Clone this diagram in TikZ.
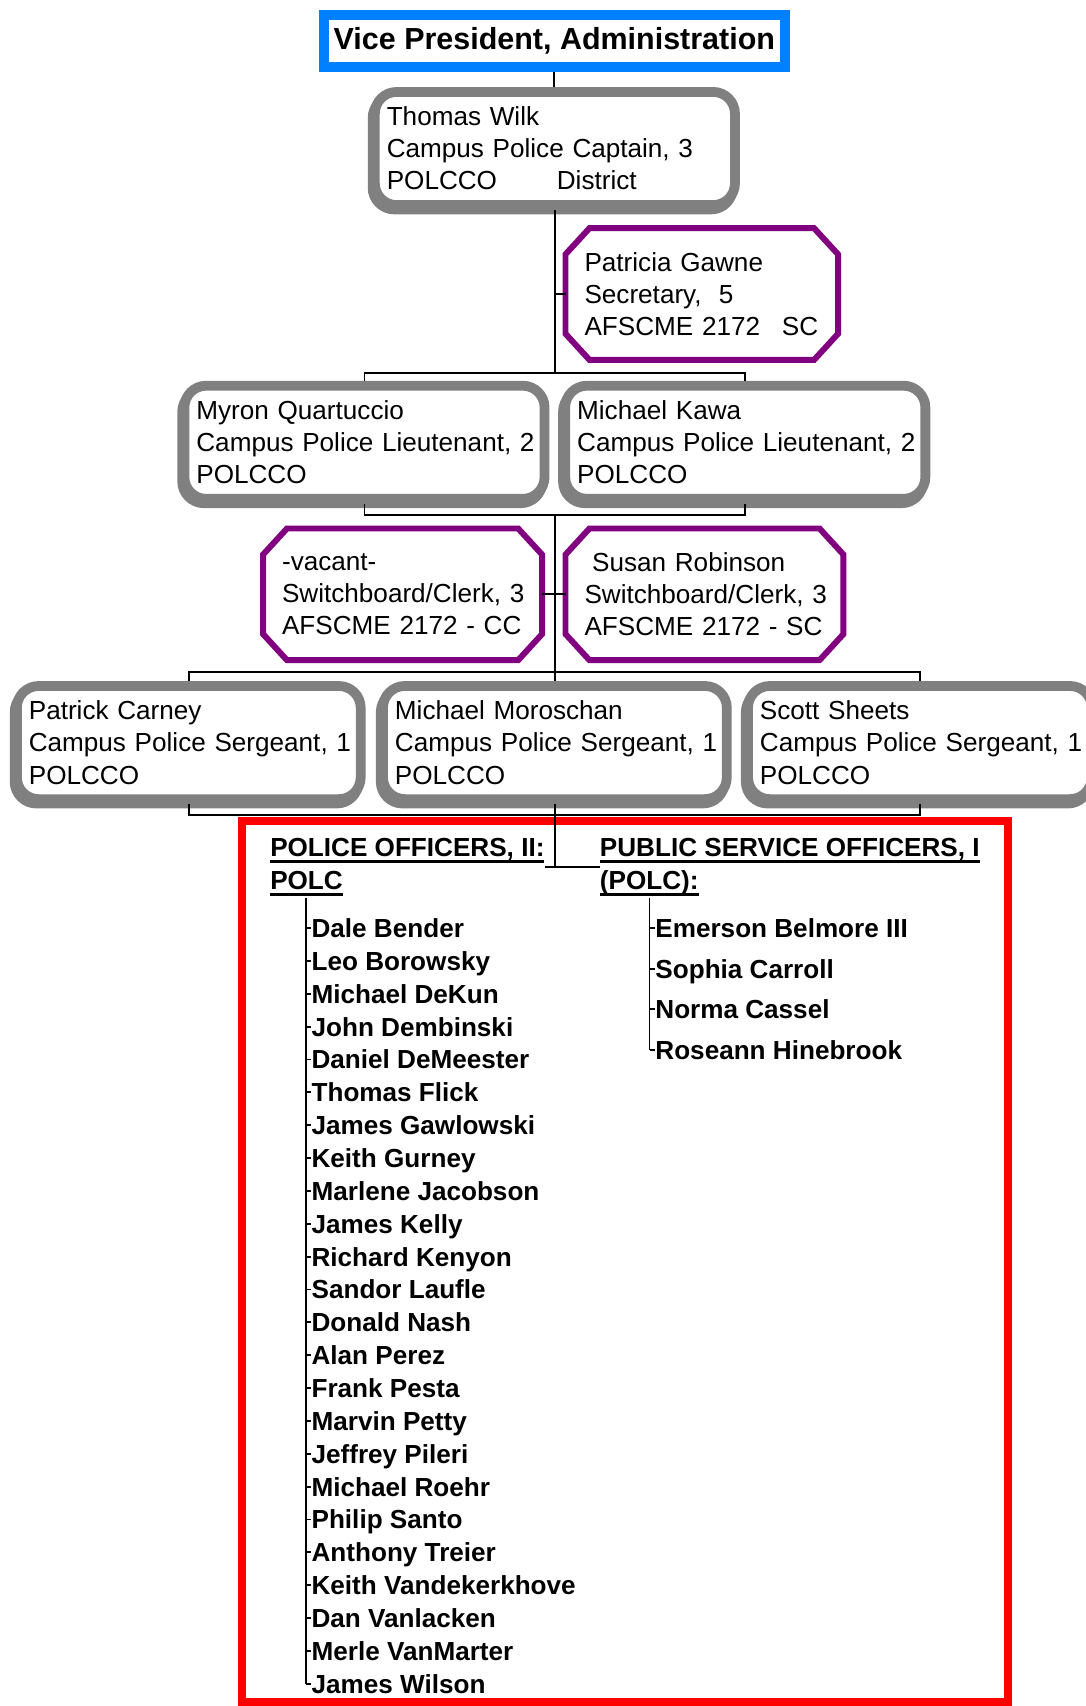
\documentclass[tikz,border=0pt]{standalone}
\usepackage{fontspec}
\setmainfont{Liberation Sans}
\usepackage{xcolor}
\usetikzlibrary{shadows}

\definecolor{vpblue}{RGB}{0,128,255}
\definecolor{boxgray}{RGB}{128,128,128}
\definecolor{clerkpurple}{RGB}{128,0,128}
\definecolor{listred}{RGB}{255,0,0}

\newcommand{\underhead}[1]{\setbox0\hbox{#1}\rlap{\rule[-3pt]{\wd0}{1.2pt}}\box0}

\begin{document}
\begin{tikzpicture}[
  x=0.5pt, y=-0.5pt,
  font=\fontsize{12}{14.75}\selectfont,
  vpbox/.style={draw=vpblue, line width=4.5pt, fill=white, anchor=north west, minimum width=212pt, minimum height=24pt, inner sep=0pt, font=\fontsize{14}{16}\selectfont\bfseries},
  capbox/.style={draw=boxgray, line width=4.5pt, rounded corners=10pt, fill=white, anchor=north west, align=left, inner xsep=5.5pt, text width=#1, minimum height=52pt,
    drop shadow={shadow xshift=-1pt, shadow yshift=-2pt, draw=boxgray, fill=boxgray, line width=4.5pt, opacity=1}},
  clerkbox/.style={anchor=north west, outer sep=0pt, align=left, inner xsep=8.75pt, text width=#1, minimum height=60.5pt},
  clerkline/.style={draw=clerkpurple, line width=2.75pt, line join=miter},
  listbox/.style={draw=listred, line width=3.7pt, anchor=north west, minimum width=351.8pt, minimum height=404.8pt, inner sep=0pt},
  head/.style={font=\fontsize{12}{15}\selectfont\bfseries, align=left, inner sep=0pt, anchor=north west},
  staff/.style={font=\fontsize{12}{14}\selectfont\bfseries, inner sep=0pt, text height=8.6pt, text depth=0pt, anchor=west},
  link/.style={draw=black, line width=0.85pt}
]
\useasboundingbox (0,0) rectangle (998,1568);
\clip (0,0) rectangle (998,1568);

% boxes of the chart
\node[vpbox] (vp) at (293,9) {Vice President, Administration};
\node[capbox=154.5pt] (wilk) at (340,80) {Thomas Wilk\\\mbox{Campus Police Captain, 3}\\POLCCO\hspace{27.5pt}District};
\node[clerkbox=107.75pt] (gawne) at (519.75,209.75) {Patricia Gawne\\Secretary,\hspace{8pt}5\\\mbox{AFSCME 2172\hspace{10pt}SC}};
\node[capbox=154.5pt] (quartuccio) at (165,350) {Myron Quartuccio\\\mbox{Campus Police Lieutenant, 2}\\POLCCO};
\node[capbox=154.5pt] (kawa) at (515,350) {Michael Kawa\\\mbox{Campus Police Lieutenant, 2}\\POLCCO};
\node[clerkbox=110.75pt] (vacant) at (241.75,485.75) {-vacant-\\\mbox{Switchboard/Clerk, 3}\\\mbox{AFSCME 2172 - CC}};
\node[clerkbox=110.25pt] (robinson) at (519.75,485.75) {\hspace*{3.5pt}Susan Robinson\\\mbox{Switchboard/Clerk, 3}\\\mbox{AFSCME 2172 - SC}};
\node[capbox=147pt] (carney) at (11,626) {Patrick Carney\\\mbox{Campus Police Sergeant, 1}\\POLCCO};
\node[capbox=147pt] (moroschan) at (347.5,626) {Michael Moroschan\\\mbox{Campus Police Sergeant, 1}\\POLCCO};
\node[capbox=147pt] (sheets) at (683,626) {Scott Sheets\\\mbox{Campus Police Sergeant, 1}\\POLCCO};

% cut corners of the clerk boxes
\foreach \b in {gawne,vacant,robinson}
  \draw[clerkline] ([xshift=11pt]\b.north west) -- ([xshift=-11pt]\b.north east)
    -- ([yshift=-12pt]\b.north east) -- ([yshift=12pt]\b.south east)
    -- ([xshift=-11pt]\b.south east) -- ([xshift=11pt]\b.south west)
    -- ([yshift=12pt]\b.south west) -- ([yshift=-12pt]\b.north west) -- cycle;

% officers
\node[listbox] (officers) at (219,751) {};
\node[head] (pohead) at (248,770) {\underhead{POLICE OFFICERS, II:}\\\underhead{POLC}};
\node[head] (psohead) at (551,770) {\underhead{PUBLIC SERVICE OFFICERS, I}\\\underhead{(POLC):}};

\foreach \nm [count=\i] in {Dale Bender, Leo Borowsky, Michael DeKun, John Dembinski,
    Daniel DeMeester, Thomas Flick, James Gawlowski, Keith Gurney, Marlene Jacobson,
    James Kelly, Richard Kenyon, Sandor Laufle, Donald Nash, Alan Perez, Frank Pesta,
    Marvin Petty, Jeffrey Pileri, Michael Roehr, Philip Santo, Anthony Treier,
    Keith Vandekerkhove, Dan Vanlacken, Merle VanMarter, James Wilson}
  \node[staff] (po\i) at (286,{853+(\i-1)*30.2}) {\nm};
\foreach \nm [count=\i] in {Emerson Belmore III, Sophia Carroll, Norma Cassel, Roseann Hinebrook}
  \node[staff] (pso\i) at (602,{853+(\i-1)*37.33}) {\nm};

% connectors
\coordinate (lieubar) at (510,343);
\coordinate (lieufoot) at (510,473);
\coordinate (sgtbar) at (510,618);
\coordinate (sgtfoot) at (510,749);
\coordinate (potrunk) at (281,825);
\coordinate (psotrunk) at (597,825);
\draw[link] (vp.south) -- (vp.south |- wilk.north);
\draw[link] (wilk.south) -- (lieubar);
\draw[link] (wilk.south |- gawne.west) -- (gawne.west);
\draw[link] (quartuccio.north) |- (lieubar) -| (kawa.north);
\draw[link] (quartuccio.south) |- (lieufoot) -| (kawa.south);
\draw[link] (lieufoot) -- (sgtbar);
\draw[link] (vacant.east) -- (robinson.west);
\draw[link] (carney.north) |- (sgtbar) -| (sheets.north);
\draw[link] (sgtbar) -- (moroschan.north);
\draw[link] (carney.south) |- (sgtfoot) -| (sheets.south);
\draw[link] (moroschan.south) -- (moroschan.south |- pohead.east);
\draw[link] (pohead.east) -- (psohead.west);
\draw[link] (potrunk) -- (potrunk |- po24.west);
\foreach \i in {1,...,24}
  \draw[link] (potrunk |- po\i.west) -- (po\i.west);
\draw[link] (psotrunk) -- (psotrunk |- pso4.west);
\foreach \i in {1,...,4}
  \draw[link] (psotrunk |- pso\i.west) -- (pso\i.west);
\end{tikzpicture}
\end{document}
